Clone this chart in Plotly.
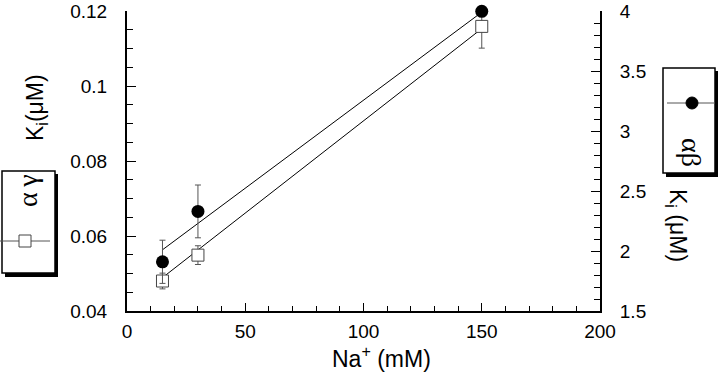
import plotly.graph_objects as go

# ---- data ----
na_mM = [15, 30, 150]
ki_alpha_gamma = [0.048, 0.0549, 0.1159]          # left axis (open squares)
ki_alpha_gamma_err = [0.0021, 0.0025, 0.0058]
ki_alpha_beta = [1.91, 2.33, 3.997]                # right axis (filled circles)
ki_alpha_beta_err = [0.18, 0.22, 0.03]

fit_x = [15, 150]
fit_alpha_gamma = [0.0489, 0.1153]
fit_alpha_beta = [2.01, 3.99]

x_ticks = [0, 50, 100, 150, 200]
left_ticks = [0.04, 0.06, 0.08, 0.1, 0.12]
left_labels = ["0.04", "0.06", "0.08", "0.1", "0.12"]
right_ticks = [1.5, 2, 2.5, 3, 3.5, 4]
right_labels = ["1.5", "2", "2.5", "3", "3.5", "4"]

# ---- geometry ----
W, H = 720, 386
L, R, T, B = 127, 120, 11, 75
PW, PH = W - L - R, H - T - B

def px(x):
    return (x - L) / PW

def py(y):
    return (H - B - y) / PH

FONT = "Liberation Sans, Arial, sans-serif"
GREEK = "Liberation Serif, DejaVu Serif, serif"

fig = go.Figure()

# regression lines
fig.add_trace(go.Scatter(x=fit_x, y=fit_alpha_beta, mode="lines", yaxis="y2",
                         line=dict(color="black", width=1), showlegend=False,
                         hoverinfo="skip"))
fig.add_trace(go.Scatter(x=fit_x, y=fit_alpha_gamma, mode="lines",
                         line=dict(color="black", width=1), showlegend=False,
                         hoverinfo="skip"))

# alpha-beta: filled circles on right axis
fig.add_trace(go.Scatter(
    x=na_mM, y=ki_alpha_beta, mode="markers", yaxis="y2", name="αβ",
    marker=dict(symbol="circle", size=13, color="black"),
    error_y=dict(type="data", array=ki_alpha_beta_err, color="#555555",
                 thickness=1, width=3),
    cliponaxis=False, showlegend=False))

# alpha-gamma: open squares on left axis
fig.add_trace(go.Scatter(
    x=na_mM, y=ki_alpha_gamma, mode="markers", name="αγ",
    marker=dict(symbol="square", size=12, color="white",
                line=dict(color="#444444", width=1)),
    error_y=dict(type="data", array=ki_alpha_gamma_err, color="#555555",
                 thickness=1, width=3),
    showlegend=False))

fig.update_layout(
    width=W, height=H,
    margin=dict(l=L, r=R, t=T, b=B, pad=0, autoexpand=False),
    paper_bgcolor="white", plot_bgcolor="white",
    font=dict(family=FONT, size=19, color="black"),
    xaxis=dict(range=[0, 200], tickvals=x_ticks, ticktext=[str(v) for v in x_ticks],
               showline=True, linecolor="black", linewidth=2, mirror=False,
               ticks="inside", ticklen=8, tickwidth=1, tickcolor="black",
               minor=dict(dtick=10, ticks="inside", ticklen=5, tickcolor="black"),
               showgrid=False, zeroline=False, ticklabelstandoff=2,
               automargin=False),
    yaxis=dict(range=[0.04, 0.12], tickvals=left_ticks, ticktext=left_labels,
               showline=True, linecolor="black", linewidth=2, mirror=False,
               ticks="inside", ticklen=9, tickwidth=1, tickcolor="black",
               minor=dict(dtick=0.005, ticks="inside", ticklen=6, tickcolor="black"),
               showgrid=False, zeroline=False, ticklabelstandoff=14,
               automargin=False),
    yaxis2=dict(range=[1.5, 4], tickvals=right_ticks, ticktext=right_labels,
                overlaying="y", side="right",
                showline=True, linecolor="black", linewidth=2,
                ticks="inside", ticklen=9, tickwidth=1, tickcolor="black",
                minor=dict(dtick=0.1, ticks="inside", ticklen=6, tickcolor="black"),
                showgrid=False, zeroline=False, ticklabelstandoff=14,
                automargin=False),
)

def ann(x, y, text, angle=0, family=FONT, size=23):
    fig.add_annotation(x=px(x), y=py(y), xref="paper", yref="paper",
                       xanchor="center", yanchor="middle",
                       text=text, showarrow=False, textangle=angle,
                       font=dict(family=family, size=size, color="black"))

# legend boxes (shadow + box)
def box(x0, y0, x1, y1):
    fig.add_shape(type="rect", xref="paper", yref="paper",
                  x0=px(x0 + 3), x1=px(x1 + 3), y0=py(y1 + 4), y1=py(y0 + 3),
                  fillcolor="black", line=dict(width=0), layer="above")
    fig.add_shape(type="rect", xref="paper", yref="paper",
                  x0=px(x0), x1=px(x1), y0=py(y1), y1=py(y0),
                  fillcolor="white", line=dict(color="black", width=1.5),
                  layer="above")

box(2, 171, 55, 273)
box(663, 68, 715, 173)

# left legend sample (alpha-gamma)
fig.add_shape(type="line", xref="paper", yref="paper",
              x0=px(0), x1=px(50), y0=py(241), y1=py(241),
              line=dict(color="#555555", width=1), layer="above")
fig.add_shape(type="rect", xref="paper", yref="paper",
              x0=px(19), x1=px(31), y0=py(247), y1=py(235),
              fillcolor="white", line=dict(color="#444444", width=1), layer="above")

# right legend sample (alpha-beta)
fig.add_shape(type="line", xref="paper", yref="paper",
              x0=px(667), x1=px(715), y0=py(103), y1=py(103),
              line=dict(color="#555555", width=1), layer="above")
fig.add_shape(type="circle", xref="paper", yref="paper",
              x0=px(686), x1=px(698), y0=py(109), y1=py(97),
              fillcolor="black", line=dict(color="black", width=1), layer="above")

# texts
ann(381, 357, "Na<sup>+</sup> (mM)")
ann(36, 108, "K<sub>i</sub>(μM)", -90)
ann(677, 225, "K<sub>i</sub> (μM)", 90)
ann(27, 191, "α\u2009γ", -90, GREEK, 28)
ann(692, 152, "αβ", 90, GREEK, 28)

fig.write_html("out.html", post_script="document.body.style.margin='0';",
               config={"displayModeBar": False})
